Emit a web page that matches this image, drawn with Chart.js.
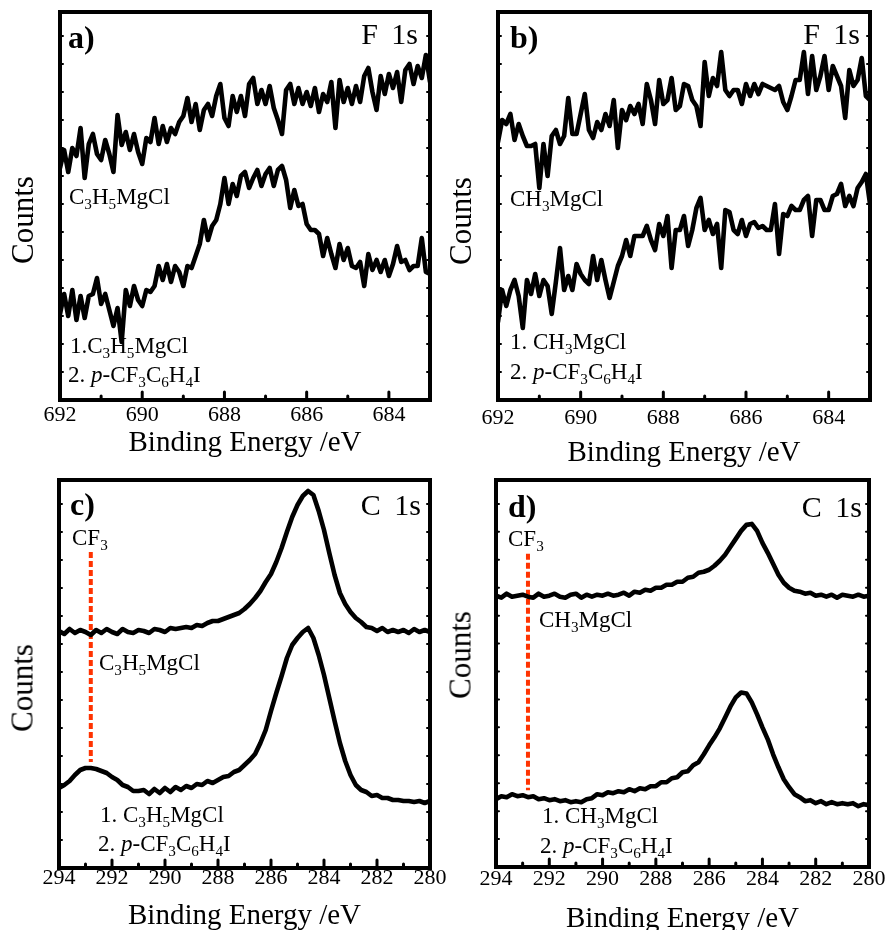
<!DOCTYPE html>
<html><head><meta charset="utf-8">
<script src="https://cdn.jsdelivr.net/npm/chart.js@4.4.0/dist/chart.umd.min.js"></script>
<style>
html,body{margin:0;padding:0;background:#fff;}
#wrap{position:relative;width:885px;height:930px;overflow:hidden;background:#fff;}
canvas{position:absolute;left:0;top:0;}
.t{position:absolute;font-family:"Liberation Serif","Times New Roman",serif;color:#000;line-height:1;white-space:nowrap;}
.t sub{font-size:0.66em;vertical-align:-0.34em;line-height:0;}
</style></head><body>
<div id="wrap">
<canvas id="ca" width="885" height="980"></canvas>
<canvas id="cb" width="885" height="980"></canvas>
<canvas id="cc" width="885" height="980"></canvas>
<canvas id="cd" width="885" height="980"></canvas>
</div>
<script>
// ---------- DATA ----------
// F 1s binding energies (eV)
const fEnergy = [692.0,691.9,691.8,691.7,691.6,691.5,691.4,691.3,691.2,691.1,
691.0,690.9,690.8,690.7,690.6,690.5,690.4,690.3,690.2,690.1,
690.0,689.9,689.8,689.7,689.6,689.5,689.4,689.3,689.2,689.1,
689.0,688.9,688.8,688.7,688.6,688.5,688.4,688.3,688.2,688.1,
688.0,687.9,687.8,687.7,687.6,687.5,687.4,687.3,687.2,687.1,
687.0,686.9,686.8,686.7,686.6,686.5,686.4,686.3,686.2,686.1,
686.0,685.9,685.8,685.7,685.6,685.5,685.4,685.3,685.2,685.1,
685.0,684.9,684.8,684.7,684.6,684.5,684.4,684.3,684.2,684.1,
684.0,683.9,683.8,683.7,683.6,683.5,683.4,683.3,683.2,683.1,
683.0];
// panel a: C3H5MgCl (upper) and 1.C3H5MgCl 2.p-CF3C6H4I (lower), counts (a.u.)
const aUpper = [232,250,228,252,244,272,222,256,266,246,
240,260,246,228,285,255,268,250,266,248,
236,262,258,282,256,274,258,272,266,278,
284,302,278,296,270,290,296,284,304,316,
282,274,304,288,304,284,316,322,296,310,
296,314,292,280,266,310,316,296,312,296,
308,294,312,288,306,298,318,272,320,298,
312,296,314,298,324,332,308,290,324,306,
326,312,328,298,330,336,316,334,322,345,
318];
const aLower = [86,106,84,110,80,104,82,104,106,122,
96,106,90,74,92,58,110,94,114,100,
94,110,108,114,134,120,136,118,134,128,
114,134,132,144,156,180,160,174,180,196,
222,196,216,204,224,228,212,222,230,214,
226,232,214,230,234,220,192,210,194,196,
176,170,170,166,144,162,146,132,156,140,
152,134,132,138,114,146,130,140,128,140,
124,136,154,138,140,130,134,134,162,128,
126];
// panel b: CH3MgCl (upper) and 1.CH3MgCl 2.p-CF3C6H4I (lower)
const bUpper = [258,280,276,286,260,276,264,254,254,256,
212,256,224,264,270,256,264,302,266,266,
286,306,270,262,278,270,286,274,300,252,
290,280,294,286,296,276,316,300,276,320,
296,300,322,290,294,316,314,300,294,274,
338,304,322,314,348,310,304,310,310,296,
316,304,316,306,316,314,312,310,314,298,
290,304,320,320,348,306,344,310,324,344,
310,334,324,314,282,330,314,320,342,304,
300];
const bLower = [78,110,94,110,120,104,72,120,106,126,
104,120,114,86,118,152,110,124,110,136,
126,120,116,144,120,140,120,102,118,134,
144,160,144,164,164,164,174,160,150,176,
164,184,132,170,170,184,154,170,192,202,
170,180,166,176,132,190,188,170,166,180,
164,176,178,172,174,170,170,196,146,186,
184,194,190,190,200,204,164,200,200,190,
190,204,206,216,194,204,194,212,218,226,
196];
// C 1s binding energies (eV)
const cEnergy = [294.0,293.8,293.6,293.4,293.2,293.0,292.8,292.6,292.4,292.2,
292.0,291.8,291.6,291.4,291.2,291.0,290.8,290.6,290.4,290.2,
290.0,289.8,289.6,289.4,289.2,289.0,288.8,288.6,288.4,288.2,
288.0,287.8,287.6,287.4,287.2,287.0,286.8,286.6,286.4,286.2,
286.0,285.8,285.6,285.4,285.2,285.0,284.8,284.6,284.4,284.2,
284.0,283.8,283.6,283.4,283.2,283.0,282.8,282.6,282.4,282.2,
282.0,281.8,281.6,281.4,281.2,281.0,280.8,280.6,280.4,280.2,
280.0];
const cUpper = [237,234,239,235,238,236,233,238,235,239,
236,234,239,236,235,238,237,235,239,238,
236,240,239,240,241,240,243,242,245,247,
247,249,251,253,255,259,264,270,277,286,
294,306,320,336,351,363,372,377,373,357,
338,315,293,275,264,256,250,246,241,240,
237,240,236,238,236,238,235,239,236,238,
236];
const cLower = [80,83,87,93,98,100,100,99,97,95,
91,88,83,81,77,77,78,74,79,75,
80,76,81,78,82,80,84,83,87,85,
88,91,92,96,98,103,108,114,125,138,
157,175,192,210,223,230,236,240,230,213,
193,170,147,125,107,93,83,78,76,72,
73,70,70,68,68,67,67,66,67,65,
67];
const dUpper = [272,270,274,271,272,273,271,270,274,271,
272,274,271,270,273,274,270,273,271,273,
272,274,272,273,275,272,276,275,278,277,
280,280,283,283,286,286,290,291,295,296,
298,302,307,313,321,329,337,343,344,337,
325,315,304,293,285,280,277,276,274,275,
272,273,271,273,270,273,272,271,273,271,
272];
const dLower = [68,71,70,73,71,72,70,71,68,69,
67,68,66,67,65,66,65,68,69,73,
72,75,74,76,75,78,76,79,78,81,
81,85,85,89,90,95,96,102,105,113,
122,130,139,150,161,170,175,174,165,153,
140,128,113,100,88,80,73,70,66,67,
64,66,63,65,63,64,63,64,61,63,
62];
// CF3 marker (eV) and its vertical extent (counts) in panels c and d
const cf3Energy = 292.8;
const cMarker = [316, 106];
const dMarker = [314, 77];
// axis ranges
const fRange = [683, 692];
const cRange = [280, 294];
const countsRange = [0, 388];

// ---------- DRAWING ----------
const W = 885, H = 980, XH = 70, YSTEP = 28;
const SERIF = '"Liberation Serif","Times New Roman",serif';

const framePlugin = {
  id: 'frame',
  afterDatasetsDraw(chart) {
    const {ctx, chartArea: a, scales: {x, y}} = chart;
    ctx.save();
    ctx.strokeStyle = '#000';
    ctx.lineCap = 'round';
    ctx.lineWidth = 3;
    x.ticks.forEach(t => {
      const px = x.getPixelForValue(t.value);
      const len = (Math.round(t.value) % 2 === 0) ? 8 : 4;
      ctx.beginPath(); ctx.moveTo(px, a.bottom); ctx.lineTo(px, a.bottom - len); ctx.stroke();
    });
    ctx.lineWidth = 2;
    for (let v = y.min; v <= y.max; v += YSTEP) {
      const py = y.getPixelForValue(v);
      ctx.beginPath();
      ctx.moveTo(a.left, py); ctx.lineTo(a.left + 3, py);
      ctx.moveTo(a.right, py); ctx.lineTo(a.right - 3, py);
      ctx.stroke();
    }
    ctx.lineCap = 'butt'; ctx.lineJoin = 'miter'; ctx.lineWidth = 4;
    ctx.strokeRect(a.left, a.top, a.right - a.left, a.bottom - a.top);
    ctx.restore();
  }
};

function spectrum(energy, counts) {
  return {
    data: energy.map((e, i) => ({x: e, y: counts[i]})),
    borderColor: '#000', borderWidth: 4.6, pointRadius: 0, tension: 0,
    borderJoinStyle: 'round', borderCapStyle: 'round', fill: false
  };
}

function makeChart(id, p) {
  const datasets = p.series.map(s => spectrum(p.energy, s));
  if (p.marker) {
    datasets.push({
      data: p.marker.map(v => ({x: cf3Energy, y: v})),
      borderColor: '#ff3300', borderWidth: 4, borderDash: [6, 3],
      pointRadius: 0, borderCapStyle: 'butt', fill: false
    });
  }
  return new Chart(document.getElementById(id), {
    type: 'line',
    data: {datasets},
    options: {
      responsive: false, animation: false, events: [],
      layout: {padding: {left: p.L, top: p.T, right: W - p.R, bottom: H - p.B - XH}},
      plugins: {legend: {display: false}, tooltip: {enabled: false}},
      scales: {
        x: {
          type: 'linear', reverse: true, min: p.range[0], max: p.range[1],
          ticks: {
            stepSize: 1, autoSkip: false, maxRotation: 0, padding: p.tp,
            color: '#000', font: {family: SERIF, size: 22, lineHeight: 1},
            callback: v => (Math.round(v) % 2 === 0 ? String(v) : '')
          },
          grid: {display: false, drawTicks: false},
          border: {display: false},
          title: {
            display: true, text: 'Binding Energy /eV', color: '#000',
            font: {family: SERIF, size: 29, lineHeight: 1},
            padding: {top: 0, bottom: p.xp}
          },
          afterFit: s => { s.height = XH; s.paddingLeft = 0; s.paddingRight = 0; }
        },
        y: {display: false, min: countsRange[0], max: countsRange[1]}
      }
    },
    plugins: [framePlugin]
  });
}

makeChart('ca', {energy: fEnergy, series: [aUpper, aLower], range: fRange, L: 60, T: 12, R: 430, B: 400, tp: 4, xp: 12});
makeChart('cb', {energy: fEnergy, series: [bUpper, bLower], range: fRange, L: 498, T: 12, R: 870, B: 400, tp: 7, xp: 2});
makeChart('cc', {energy: cEnergy, series: [cUpper, cLower], range: cRange, L: 59, T: 480, R: 430, B: 868, tp: -1, xp: 7, marker: cMarker});
makeChart('cd', {energy: cEnergy, series: [dUpper, dLower], range: cRange, L: 496, T: 480, R: 869, B: 867, tp: 1, xp: 3, marker: dMarker});

// ---------- TEXT ----------
const wrap = document.getElementById('wrap');
function txt(html, x, base, size, o = {}) {
  const d = document.createElement('div');
  d.className = 't'; d.innerHTML = html;
  d.style.fontSize = size + 'px';
  d.style.top = (base - 0.8375 * size) + 'px';
  if (o.right) d.style.right = (W - x) + 'px'; else d.style.left = x + 'px';
  if (o.bold) d.style.fontWeight = 'bold';
  if (o.ws) d.style.wordSpacing = o.ws + 'px';
  wrap.appendChild(d);
}
function vtxt(text, cx, cy, size) {
  const d = document.createElement('div');
  d.className = 't'; d.textContent = text;
  d.style.fontSize = size + 'px';
  d.style.left = cx + 'px'; d.style.top = cy + 'px';
  d.style.transform = 'translate(-50%,-50%) rotate(-90deg)';
  wrap.appendChild(d);
}
const C3H5 = 'C<sub>3</sub>H<sub>5</sub>MgCl';
const CH3 = 'CH<sub>3</sub>MgCl';
const PCF = '2. <i>p</i>-CF<sub>3</sub>C<sub>6</sub>H<sub>4</sub>I';

// panel a
txt('a)', 68, 48, 32, {bold: true});
txt('F 1s', 418, 44, 30, {right: true, ws: 6});
txt(C3H5, 69, 204, 23);
txt('1.' + C3H5, 70, 353, 23);
txt(PCF, 68, 382, 23);
vtxt('Counts', 22, 220, 31);
// panel b
txt('b)', 510, 48, 32, {bold: true});
txt('F 1s', 860, 44, 30, {right: true, ws: 6});
txt(CH3, 510, 206, 23);
txt('1. ' + CH3, 510, 349, 23);
txt(PCF, 510, 379, 23);
vtxt('Counts', 460, 221, 31);
// panel c
txt('c)', 70, 515, 32, {bold: true});
txt('C 1s', 421, 515, 30, {right: true, ws: 6});
txt('CF<sub>3</sub>', 72, 545, 23);
txt(C3H5, 99, 670, 23);
txt('1. ' + C3H5, 100, 822, 23);
txt(PCF, 98, 851, 23);
vtxt('Counts', 22, 688, 31);
// panel d
txt('d)', 508, 517, 32, {bold: true});
txt('C 1s', 862, 517, 30, {right: true, ws: 6});
txt('CF<sub>3</sub>', 508, 546, 23);
txt(CH3, 539, 627, 23);
txt('1. ' + CH3, 542, 823, 23);
txt(PCF, 540, 853, 23);
vtxt('Counts', 460, 655, 31);
</script>
</body></html>
